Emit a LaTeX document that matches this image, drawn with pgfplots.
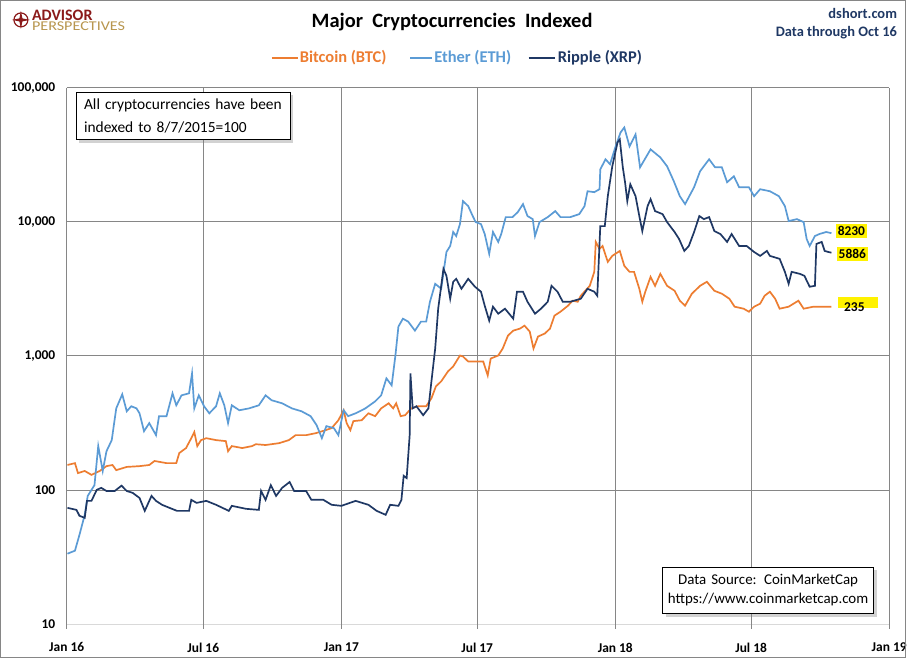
\documentclass[border=0pt]{standalone}
\usepackage{pgfplots}
\pgfplotsset{compat=1.18}
\usepackage{fontspec}
\setmainfont{Carlito}
\usetikzlibrary{shadows}
\definecolor{btc}{HTML}{ED7D31}
\definecolor{eth}{HTML}{5B9BD5}
\definecolor{xrp}{HTML}{1F3864}
\definecolor{gridc}{HTML}{868686}
\definecolor{axc}{HTML}{D9D9D9}
\definecolor{navyt}{HTML}{1F3864}
\definecolor{apred}{HTML}{8B1A1A}
\definecolor{apgold}{HTML}{B8964E}
\begin{document}
\begin{tikzpicture}[x=1pt,y=1pt]
\fill[white] (0,0) rectangle (910,661);
\begin{axis}[
  at={(67pt,34pt)}, anchor=south west,
  scale only axis, width=826pt, height=539pt,
  xmin=0, xmax=1096, ymode=log, ymin=10, ymax=100000,
  xtick={0,182,366,547,731,912,1096},
  xticklabels={Jan 16,Jul 16,Jan 17,Jul 17,Jan 18,Jul 18,Jan 19},
  ytick={10,100,1000,10000,100000},
  yticklabels={10,100,{1,000},{10,000},{100,000}},
  yminorticks=false,
  grid=major, major grid style={gridc, line width=1pt},
  axis line style={draw=none},
  major tick style={draw=none},
  tick label style={font=\fontsize{13.5}{13.5}\selectfont\bfseries},
  yticklabel style={xshift=-8pt},
  xticklabel style={yshift=-15pt},
]
\addplot[btc, line width=1.7pt] coordinates {(1,154)(11,159)(15,134)(24,139)(33,130)(44,139)(53,151)(61,154)(66,141)(80,149)(97,151)(110,154)(117,165)(133,159)(146,159)(150,189)(159,206)(166,244)(170,271)(174,213)(179,236)(186,244)(199,236)(212,232)(215,195)(220,213)(234,206)(247,213)(252,220)(265,217)(283,224)(296,236)(305,257)(319,257)(332,266)(345,280)(353,290)(362,332)(369,394)(373,316)(378,280)(382,327)(393,332)(402,374)(411,356)(419,407)(429,444)(435,407)(439,444)(445,356)(451,362)(459,407)(468,422)(479,422)(486,484)(492,594)(499,647)(508,767)(515,836)(524,1008)(528,991)(535,910)(544,910)(555,910)(561,716)(565,957)(575,1008)(581,1137)(588,1419)(595,1545)(604,1600)(610,1683)(617,1520)(622,1137)(628,1396)(637,1469)(644,1600)(650,2000)(658,2138)(668,2371)(674,2582)(681,2536)(685,2812)(697,3334)(703,4236)(705,7079)(710,6280)(714,6607)(721,5023)(727,5572)(737,6067)(743,4697)(750,4236)(756,4236)(763,3170)(767,2536)(771,3013)(778,3890)(784,3334)(791,4093)(800,3334)(810,3062)(817,2582)(824,2371)(833,2911)(844,3334)(853,3573)(863,3062)(873,2911)(883,2671)(890,2330)(902,2251)(909,2138)(916,2330)(924,2453)(930,2812)(937,3013)(944,2671)(950,2251)(962,2330)(975,2582)(982,2251)(995,2330)(1009,2330)(1019,2330)};
\addplot[eth, line width=1.7pt] coordinates {(1,33.6)(11,35.4)(17,46.5)(24,65.5)(28,90.6)(37,109)(42,213)(48,139)(53,195)(60,236)(66,407)(74,518)(80,387)(86,422)(93,407)(97,374)(103,275)(110,316)(119,257)(123,356)(133,356)(141,527)(146,429)(153,509)(163,527)(167,741)(170,407)(176,509)(183,422)(190,374)(199,422)(204,527)(210,429)(215,316)(220,429)(230,394)(243,407)(256,429)(265,509)(273,468)(287,444)(300,407)(313,387)(325,356)(333,305)(340,244)(346,300)(356,290)(362,257)(369,394)(375,356)(385,374)(398,407)(411,459)(419,509)(426,681)(433,604)(438,1008)(442,1656)(448,1897)(455,1803)(464,1545)(472,1803)(479,1803)(484,2536)(491,3451)(499,3170)(506,5957)(511,6607)(515,8395)(519,7834)(524,9616)(528,14260)(535,13090)(541,11040)(545,9950)(552,9616)(557,8110)(563,5768)(568,8395)(575,7079)(579,8110)(585,10840)(594,10840)(601,11800)(608,13550)(614,11040)(621,10470)(624,7834)(630,9950)(641,10840)(651,12020)(658,10840)(671,10840)(683,11410)(690,13090)(694,16900)(703,16630)(710,17500)(711,24600)(718,29240)(724,26850)(731,35890)(738,46340)(743,50470)(750,36480)(758,44770)(764,25470)(778,34670)(791,30200)(800,25940)(809,20050)(817,15520)(824,13550)(836,18110)(844,23820)(856,29240)(864,25470)(873,25470)(880,19720)(889,21840)(896,18110)(909,18110)(916,15520)(924,17500)(937,16900)(949,15520)(957,13090)(962,10130)(973,10470)(982,9950)(986,7447)(990,6607)(997,7834)(1003,8110)(1012,8395)(1019,8230)};
\addplot[xrp, line width=1.7pt] coordinates {(1,73.8)(13,71.3)(17,64.4)(24,62.2)(27,83.2)(33,83.2)(40,100.5)(46,104)(53,98.6)(64,98.6)(73,108)(80,98.6)(88,95.4)(97,87.5)(104,70.1)(113,90.6)(119,83.2)(127,77.8)(137,73.8)(147,70.1)(163,70.1)(166,84.7)(173,80.4)(186,83.2)(199,77.8)(216,70.1)(220,76.4)(239,72.6)(256,71.3)(259,98.6)(265,84.7)(272,109)(279,90.6)(287,104)(297,115)(303,98.6)(319,98.6)(326,84.7)(342,84.7)(353,77.8)(366,76.4)(385,83.2)(402,77.8)(413,70.1)(425,65.5)(431,77.8)(442,76.4)(446,84.7)(449,128)(453,123)(457,257)(458,741)(461,407)(466,422)(475,362)(482,407)(486,647)(491,1137)(495,2251)(502,4457)(506,3957)(511,2671)(515,3573)(519,3758)(526,3170)(535,3758)(544,3281)(552,3013)(557,2371)(563,1834)(568,2330)(575,2066)(584,2251)(595,1897)(600,3013)(608,3013)(614,2536)(624,2066)(632,2251)(641,2536)(646,3334)(654,3013)(661,2536)(671,2536)(685,2671)(694,3170)(703,3013)(707,2812)(711,9290)(717,9290)(721,15520)(727,25940)(734,39080)(737,41110)(741,25470)(744,19720)(747,14260)(751,19050)(758,15520)(763,11040)(767,8530)(774,13090)(778,14750)(784,12020)(794,11410)(800,9950)(810,8395)(816,7447)(823,6067)(829,6607)(836,8395)(843,11040)(849,10470)(856,10840)(863,8530)(871,8110)(880,7079)(886,8110)(896,6607)(906,6607)(916,5957)(924,5572)(933,6067)(937,5572)(950,5296)(957,4236)(962,3451)(966,4236)(977,4093)(983,3957)(990,3281)(997,3334)(999,6839)(1006,7079)(1010,6067)(1015,5957)(1019,5886)};
\end{axis}
% bottom axis line and ticks
\draw[axc, line width=1pt] (67,34) -- (893,34);
\foreach \t in {67,204.2,342.9,479.3,618,754.4,893} {\draw[gridc, line width=1pt] (\t,34) -- (\t,29);}
% outer frame
\draw[gridc, line width=1pt] (0.5,0.5) rectangle (909.5,660.5);
% title
\node[font=\fontsize{20.5}{20.5}\selectfont\bfseries] at (454,639) {Major\ \ Cryptocurrencies\ \ Indexed};
\node[anchor=east, inner sep=0, font=\fontsize{14.5}{14.5}\selectfont\bfseries, text=navyt] at (901,647) {dshort.com};
\node[anchor=east, inner sep=0, font=\fontsize{14.5}{14.5}\selectfont\bfseries, text=navyt] at (901,628) {Data through Oct 16};
% logo
\draw[apred, line width=1.2pt] (21,641) circle (7);
\fill[apred] (21,650) -- (22.5,642.5) -- (30,641) -- (22.5,639.5) -- (21,632) -- (19.5,639.5) -- (12,641) -- (19.5,642.5) -- cycle;
\node[anchor=north west, inner sep=0, align=left, font=\fontsize{13.5}{10}\selectfont] at (32,651)
  {\textcolor{apred}{\fontsize{16}{10}\selectfont\bfseries ADVISOR}\\\textcolor{apgold}{\scalebox{1.2}[1]{PERSPECTIVES}}};
% legend
\draw[btc, line width=2pt] (273,603) -- (299,603);
\node[anchor=west, inner sep=0, font=\fontsize{16.5}{16.5}\selectfont\bfseries, text=btc] at (301,603) {Bitcoin (BTC)};
\draw[eth, line width=2pt] (412,603) -- (434,603);
\node[anchor=west, inner sep=0, font=\fontsize{16.5}{16.5}\selectfont\bfseries, text=eth] at (436,603) {Ether (ETH)};
\draw[xrp, line width=2pt] (531,603) -- (557,603);
\node[anchor=west, inner sep=0, font=\fontsize{16.5}{16.5}\selectfont\bfseries, text=xrp] at (560,603) {Ripple (XRP)};
% note box
\node[draw=black, fill=white, line width=0.8pt, drop shadow={shadow xshift=3pt, shadow yshift=-3pt, opacity=0.35},
  anchor=north west, minimum width=215, minimum height=48, text width=207, inner xsep=4, inner ysep=3.5, align=left,
  font=\fontsize{15.5}{23}\selectfont] at (76,569) {\hspace*{4pt}All cryptocurrencies have been\\\hspace*{4pt}indexed to 8/7/2015=100};
% source box
\node[draw=black, fill=white, line width=0.8pt, drop shadow={shadow xshift=3pt, shadow yshift=-3pt, opacity=0.35},
  anchor=north west, minimum width=212, minimum height=47, text width=208, inner xsep=2, inner ysep=4, align=center,
  font=\fontsize{15}{19}\selectfont] at (665,92) {Data Source: CoinMarketCap\\https://www.coinmarketcap.com};
% end labels
\node[fill=yellow, inner sep=2pt, font=\fontsize{13.5}{13.5}\selectfont\bfseries] at (855,429) {8230};
\node[fill=yellow, inner sep=2pt, font=\fontsize{13.5}{13.5}\selectfont\bfseries] at (856,406) {5886};
\fill[yellow] (842,352) rectangle (882,363);
\node[inner sep=0, font=\fontsize{13.5}{13.5}\selectfont\bfseries] at (858,353) {235};
\end{tikzpicture}
\end{document}
